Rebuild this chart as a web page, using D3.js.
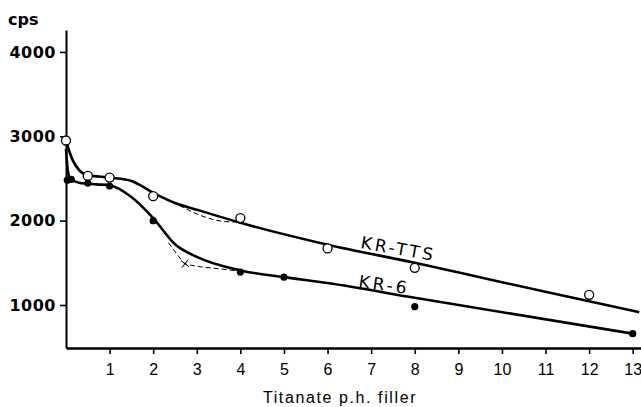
<!DOCTYPE html>
<html>
<head>
<meta charset="utf-8">
<script src="https://cdn.jsdelivr.net/npm/d3@7"></script>
<style>
    html, body { margin: 0; padding: 0; background: #fff; }
    svg { display: block; }
</style>
</head>
<body>
<div id="root"></div>
<script>
const xTicks = [1, 2, 3, 4, 5, 6, 7, 8, 9, 10, 11, 12, 13];
const yTicks = [1000, 2000, 3000, 4000];

// KR-TTS : open circles
const ttsX = [0, 0.5, 1, 2, 4, 6, 8, 12];
const ttsY = [2950, 2530, 2510, 2290, 2030, 1670, 1440, 1120];
// KR-6 : filled dots
const kr6X = [0.03, 0.12, 0.5, 1, 2, 4, 5, 8, 13];
const kr6Y = [2480, 2490, 2445, 2410, 2000, 1390, 1330, 980, 660];

// fitted (solid) curves
const ttsFitX = [0, 0.15, 0.3, 0.5, 1, 1.5, 2, 2.5, 3, 4, 6, 8, 10, 12, 13.15];
const ttsFitY = [2950, 2720, 2600, 2540, 2510, 2470, 2330, 2210, 2130, 1975, 1715, 1500, 1270, 1045, 915];
const kr6FitX = [0, 0.04, 0.1, 0.3, 0.7, 1, 1.5, 2, 2.5, 3, 4, 5, 6, 8, 13];
const kr6FitY = [2850, 2600, 2490, 2450, 2430, 2420, 2280, 2030, 1720, 1570, 1410, 1330, 1260, 1085, 660];

// dashed curves
const ttsDashX = [2.6, 3, 3.4, 3.8, 4.05];
const ttsDashY = [2180, 2080, 2010, 1985, 1990];
const kr6DashX = [2.35, 2.55, 2.73, 3, 3.5, 4];
const kr6DashY = [1740, 1600, 1490, 1460, 1430, 1400];
const crossX = [2.73];
const crossY = [1490];

const width = 641, height = 407;
const x0 = 66, yBase = 348;

const svg = d3.select('#root').append('svg')
    .attr('width', width)
    .attr('height', height);

const x = d3.scaleLinear().domain([0, 13.19]).range([x0, width]);
const y = d3.scaleLinear().domain([490, 4260]).range([yBase, 30]);

// x축
const gx = svg.append('g')
    .attr('transform', `translate(0,${yBase})`)
    .call(d3.axisBottom(x).tickValues(xTicks).tickSize(6).tickPadding(10).tickSizeOuter(0));
gx.select('.domain').attr('stroke-width', 2.5);
gx.selectAll('.tick line').attr('stroke-width', 1.6);
gx.selectAll('.tick text')
    .attr('font-family', 'Liberation Sans, Arial, sans-serif')
    .attr('font-size', 16)
    .attr('fill', '#000');

// y축
const gy = svg.append('g')
    .attr('transform', `translate(${x0},0)`)
    .call(d3.axisLeft(y).tickValues(yTicks).tickFormat(d3.format('d'))
        .tickSize(6).tickPadding(4).tickSizeOuter(0));
gy.select('.domain').attr('stroke-width', 2);
gy.selectAll('.tick line').attr('stroke-width', 1.6);
gy.selectAll('.tick text')
    .attr('font-family', 'DejaVu Sans, sans-serif')
    .attr('font-weight', 'bold')
    .attr('font-size', 16)
    .attr('letter-spacing', 0.5)
    .attr('fill', '#000');

// 축 제목
svg.append('text')
    .attr('x', 8).attr('y', 25)
    .attr('font-family', 'DejaVu Sans, sans-serif')
    .attr('font-weight', 'bold')
    .attr('font-size', 16)
    .text('cps');

svg.append('text')
    .attr('x', 340).attr('y', 403)
    .attr('text-anchor', 'middle')
    .attr('font-family', 'Liberation Sans, Arial, sans-serif')
    .attr('font-size', 16)
    .attr('letter-spacing', 1.6)
    .attr('xml:space', 'preserve')
    .text('Titanate p.h. filler');

const pts = (xs, ys) => xs.map((d, i) => [d, ys[i]]);

const smooth = d3.line()
    .x(d => x(d[0]))
    .y(d => y(d[1]))
    .curve(d3.curveMonotoneX);

// 점선
[[ttsDashX, ttsDashY], [kr6DashX, kr6DashY]].forEach(([xs, ys]) => {
    svg.append('path')
        .attr('d', smooth(pts(xs, ys)))
        .attr('fill', 'none')
        .attr('stroke', '#000')
        .attr('stroke-width', 1)
        .attr('stroke-dasharray', '5,3');
});

// 실선
[[ttsFitX, ttsFitY], [kr6FitX, kr6FitY]].forEach(([xs, ys]) => {
    svg.append('path')
        .attr('d', smooth(pts(xs, ys)))
        .attr('fill', 'none')
        .attr('stroke', '#000')
        .attr('stroke-width', 2.6);
});

// x 표시
svg.selectAll('.cross')
    .data(pts(crossX, crossY))
    .enter().append('path')
    .attr('d', d => {
        const cx = x(d[0]), cy = y(d[1]);
        return `M${cx - 4},${cy - 3}L${cx + 4},${cy + 3}M${cx - 3},${cy + 4}L${cx + 3},${cy - 4}`;
    })
    .attr('stroke', '#000')
    .attr('stroke-width', 1);

// 데이터 점
svg.selectAll('.tts')
    .data(pts(ttsX, ttsY))
    .enter().append('circle')
    .attr('cx', d => x(d[0]))
    .attr('cy', d => y(d[1]))
    .attr('r', 4.5)
    .attr('fill', '#fff')
    .attr('stroke', '#000')
    .attr('stroke-width', 1.3);

svg.selectAll('.kr6')
    .data(pts(kr6X, kr6Y))
    .enter().append('circle')
    .attr('cx', d => x(d[0]))
    .attr('cy', d => y(d[1]))
    .attr('r', 3.6)
    .attr('fill', '#000');

// 곡선 라벨
svg.append('text')
    .attr('transform', 'translate(360,248) rotate(10)')
    .attr('font-family', 'DejaVu Sans, sans-serif')
    .attr('font-size', 17)
    .attr('letter-spacing', 3)
    .text('KR-TTS');

svg.append('text')
    .attr('transform', 'translate(358,287) rotate(8)')
    .attr('font-family', 'DejaVu Sans, sans-serif')
    .attr('font-size', 17)
    .attr('letter-spacing', 3)
    .text('KR-6');
</script>
</body>
</html>
